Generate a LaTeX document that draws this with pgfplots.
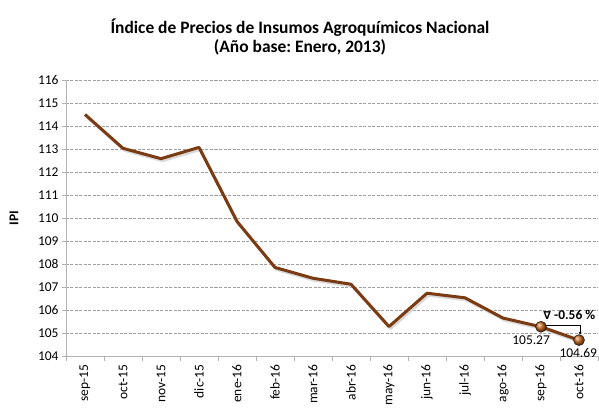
\documentclass[border=0pt]{standalone}
\usepackage{pgfplots}
\pgfplotsset{compat=1.18}
\usepackage{fontspec}
\setmainfont{Carlito}
\newfontfamily\dejavu{DejaVu Sans}
\usetikzlibrary{arrows.meta}
\definecolor{linebrown}{HTML}{7A3A12}
\definecolor{ballorange}{HTML}{C8681E}
\frenchspacing
\begin{document}
\begin{tikzpicture}
\useasboundingbox (-66bp,-52bp) rectangle (533bp,356bp);
\begin{axis}[
  at={(0,0)}, anchor=south west,
  scale only axis, width=532bp, height=276bp,
  xmin=-0.5, xmax=13.5, ymin=104, ymax=116,
  axis x line*=bottom, axis y line*=left,
  axis line style={draw=gray!60, line width=0.8bp, -},
  xtick={0,...,13},
  xticklabels={sep-15,oct-15,nov-15,dic-15,ene-16,feb-16,mar-16,abr-16,may-16,jun-16,jul-16,ago-16,sep-16,oct-16},
  x tick label style={rotate=90, anchor=east, font=\fontsize{13.5}{15}\selectfont, xshift=-1bp},
  major x tick style={draw=none},
  minor xtick={-0.5,0.5,...,13.5},
  minor x tick style={draw=gray!60, line width=0.8bp},
  ytick={104,...,116},
  y tick label style={font=\fontsize{13.5}{15}\selectfont},
  /pgf/number format/assume math mode=true,
  ymajorgrids, grid style={dash pattern=on 3bp off 1.5bp, gray!75, line width=0.6bp},
  major y tick style={draw=gray!60, line width=0.8bp},
  tick align=outside, major tick length=4bp, minor tick length=5bp,
  clip=false,
]
\addplot[gray!30, line width=3bp, xshift=1.5bp, yshift=-2bp, line join=round] coordinates {
(0,114.5)(1,113.03)(2,112.58)(3,113.07)(4,109.85)(5,107.85)(6,107.38)(7,107.12)(8,105.28)(9,106.73)(10,106.53)(11,105.65)(12,105.27)(13,104.69)};
\addplot[linebrown, line width=3bp, line join=round] coordinates {
(0,114.5)(1,113.03)(2,112.58)(3,113.07)(4,109.85)(5,107.85)(6,107.38)(7,107.12)(8,105.28)(9,106.73)(10,106.53)(11,105.65)(12,105.27)(13,104.69)};
\addplot[only marks, mark=ball, mark size=5.5bp, mark options={ball color=ballorange}] coordinates {(12,105.27)(13,104.69)};
\draw[black, line width=0.7bp, -{Stealth[length=3bp,width=3bp]}] (axis cs:12,105.32) -- (axis cs:13.03,105.32) -- (axis cs:13.03,104.93);
\node[font=\fontsize{13.5}{15}\selectfont\bfseries, anchor=west, inner sep=0pt] at (axis cs:12.06,105.8) {{\dejavu\bfseries\fontsize{11}{13}\selectfont ∇} -0.56 \%};
\node[font=\fontsize{13.5}{15}\selectfont, inner sep=0pt] at (axis cs:11.74,104.67) {105.27};
\node[font=\fontsize{13.5}{15}\selectfont, inner sep=0pt] at (axis cs:12.98,104.12) {104.69};
\end{axis}
\node[font=\fontsize{17.5}{19}\selectfont\bfseries, align=center] at (234bp,319bp) {Índice de Precios de Insumos Agroquímicos Nacional\\(Año base: Enero, 2013)};
\node[font=\fontsize{13.5}{15}\selectfont\bfseries, rotate=90] at (-52bp,138bp) {IPI};
\end{tikzpicture}
\end{document}
